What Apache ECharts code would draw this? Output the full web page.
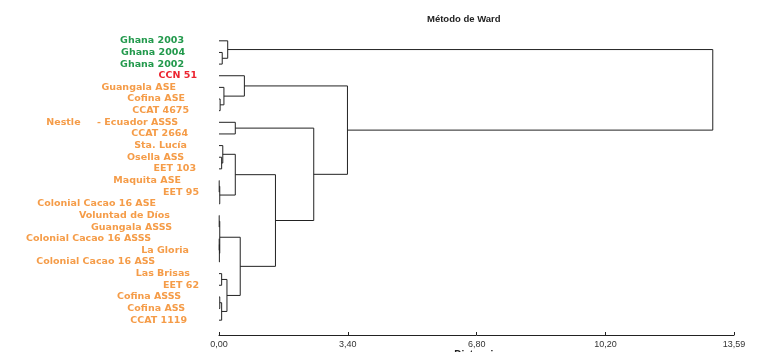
<!DOCTYPE html>
<html>
<head>
<meta charset="utf-8">
<script src="https://cdn.jsdelivr.net/npm/echarts@6/dist/echarts.min.js"></script>
<style>
  html, body { margin: 0; padding: 0; background: #fff; }
  #chart { width: 761px; height: 352px; }
</style>
</head>
<body>
<div id="chart"></div>
<script>
// leaves, top to bottom
const leafNames = [
  "Ghana 2003", "Ghana 2004", "Ghana 2002", "CCN 51", "Guangala ASE",
  "Cofina ASE", "CCAT 4675", "Nestle     - Ecuador ASSS", "CCAT 2664", "Sta. Lucía",
  "Osella ASS", "EET 103", "Maquita ASE", "EET 95", "Colonial Cacao 16 ASE",
  "Voluntad de Díos", "Guangala ASSS", "Colonial Cacao 16 ASSS", "La Gloria", "Colonial Cacao 16 ASS",
  "Las Brisas", "EET 62", "Cofina ASSS", "Cofina ASS", "CCAT 1119"
];
const leafGroup = [
  "ghana", "ghana", "ghana", "ccn", "nac",
  "nac", "nac", "nac", "nac", "nac",
  "nac", "nac", "nac", "nac", "nac",
  "nac", "nac", "nac", "nac", "nac",
  "nac", "nac", "nac", "nac", "nac"
];

// linkage: [nodeA, nodeB, distance]; new node ids start at 25
const merges = [
  [1, 2, 0.085],    // 25
  [0, 25, 0.23],    // 26
  [5, 6, 0.03],     // 27
  [4, 27, 0.13],    // 28
  [3, 28, 0.67],    // 29
  [7, 8, 0.43],     // 30
  [10, 11, 0.07],   // 31
  [9, 31, 0.10],    // 32
  [12, 13, 0.005],  // 33
  [33, 14, 0.02],   // 34
  [32, 34, 0.43],   // 35
  [15, 16, 0.005],  // 36
  [17, 18, 0.005],  // 37
  [37, 19, 0.01],   // 38
  [36, 38, 0.02],   // 39
  [20, 21, 0.07],   // 40
  [22, 23, 0.02],   // 41
  [41, 24, 0.07],   // 42
  [40, 42, 0.21],   // 43
  [39, 43, 0.56],   // 44
  [35, 44, 1.49],   // 45
  [30, 45, 2.50],   // 46
  [29, 46, 3.39],   // 47
  [26, 47, 13.03]   // 48
];

const distTicks = [0, 3.4, 6.8, 10.2, 13.59];

// look
const groupColors = { ghana: "#22994c", ccn: "#ec2430", nac: "#f59c48" };
const labelIndent = [15, 14, 15, 2, 23, 14, 10, 21, 11, 12, 15, 3, 18, 0, 43, 29, 27, 48, 10, 44, 9, 0, 18, 14, 12];

// build line segments of the tree in data units (x = distance, y = leaf index)
const nodeX = leafNames.map(() => 0);
const nodeY = leafNames.map((n, i) => i);
const segments = [];
merges.forEach(([a, b, h]) => {
  segments.push([nodeX[a], nodeY[a], h, nodeY[a]]);
  segments.push([nodeX[b], nodeY[b], h, nodeY[b]]);
  segments.push([h, nodeY[a], h, nodeY[b]]);
  nodeX.push(h);
  nodeY.push((nodeY[a] + nodeY[b]) / 2);
});

const chart = echarts.init(document.getElementById("chart"));
chart.setOption({
  animation: false,
  title: {
    text: "Método de Ward",
    left: 422,
    top: 9,
    textStyle: { fontFamily: "Liberation Sans", fontSize: 9.5, fontWeight: "bold", color: "#222" }
  },
  grid: { left: 219, right: 27, top: 35, bottom: 26, containLabel: false, outerBoundsMode: "none" },
  xAxis: {
    type: "value",
    min: distTicks[0],
    max: distTicks[distTicks.length - 1],
    interval: distTicks[1] - distTicks[0],
    offset: 9,
    name: "Distancia",
    nameLocation: "middle",
    nameGap: 15,
    nameMoveOverlap: false,
    nameTextStyle: { fontFamily: "Liberation Sans", fontSize: 10, fontWeight: "bold", color: "#222" },
    axisLine: { onZero: false, lineStyle: { color: "#222", width: 1 } },
    axisTick: { show: true, inside: true, length: 3, lineStyle: { color: "#222" } },
    axisLabel: {
      margin: 5,
      fontFamily: "Liberation Sans",
      fontSize: 9,
      color: "#333",
      formatter: v => v.toFixed(2).replace(".", ",")
    },
    splitLine: { show: false }
  },
  yAxis: [
    {
      type: "category",
      inverse: true,
      data: leafNames.map((name, i) => ({
        value: name,
        textStyle: {
          color: groupColors[leafGroup[i]],
          padding: [0, labelIndent[i], 0, 0]
        }
      })),
      axisLine: { show: false },
      axisTick: { show: false },
      axisLabel: {
        margin: 20,
        interval: 0,
        fontFamily: "DejaVu Sans",
        fontSize: 9.5,
        fontWeight: "bold"
      },
      splitLine: { show: false }
    },
    {
      type: "value",
      inverse: true,
      min: -0.5,
      max: leafNames.length - 0.5,
      show: false
    }
  ],
  series: [
    {
      type: "custom",
      yAxisIndex: 1,
      clip: false,
      encode: { x: [0, 2], y: [1, 3] },
      data: segments,
      renderItem: (params, api) => {
        const p1 = api.coord([api.value(0), api.value(1)]);
        const p2 = api.coord([api.value(2), api.value(3)]);
        return {
          type: "line",
          shape: { x1: p1[0], y1: p1[1], x2: p2[0], y2: p2[1] },
          style: { stroke: "#222", lineWidth: 1 }
        };
      }
    }
  ]
});
</script>
</body>
</html>
